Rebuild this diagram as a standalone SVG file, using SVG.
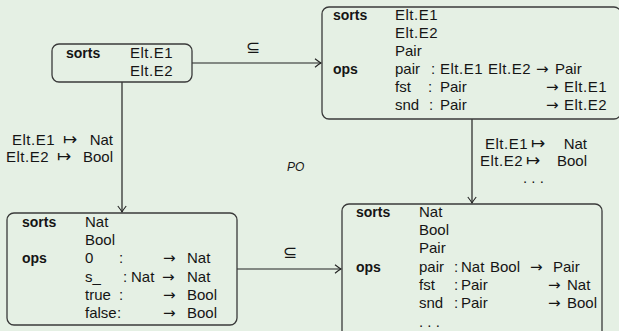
<svg xmlns="http://www.w3.org/2000/svg" width="619" height="331" viewBox="0 0 619 331">
  <style>
    .bg { fill: #e5f0e4; }
    .box { fill: none; stroke: #3a3a3a; stroke-width: 1.3; }
    .edge { fill: none; stroke: #222; stroke-width: 1.2; }
    text { font-family: "Liberation Sans", Arial, sans-serif; font-size: 15px; fill: #151515; }
    .b { font-weight: bold; font-size: 14px; }
    .e { letter-spacing: 0.5px; }
    .ar { font-family: "DejaVu Sans", sans-serif; font-size: 15px; }
    .mt { font-family: "DejaVu Sans", sans-serif; font-size: 17px; }
    .sym { font-family: "DejaVu Sans", sans-serif; font-size: 17px; }
    .po { font-style: italic; font-size: 12px; }
  </style>
  <defs>
    <marker id="to" viewBox="-8 -5 10 10" refX="0" refY="0" markerWidth="10" markerHeight="10" markerUnits="userSpaceOnUse" orient="auto">
      <path d="M-6,-4.2 Q-2,-1 0,0 Q-2,1 -6,4.2" fill="none" stroke="#222" stroke-width="1.1"/>
    </marker>
  </defs>

  <rect class="bg" x="0" y="0" width="619" height="331"/>

  <!-- connectors -->
  <g id="edges">
    <line class="edge" x1="192" y1="63" x2="321" y2="63" marker-end="url(#to)"/>
    <text class="sym" x="253" y="53" text-anchor="middle">⊆</text>
    <line class="edge" x1="122" y1="82" x2="122" y2="212" marker-end="url(#to)"/>
    <text y="145"><tspan class="e" x="12">Elt.E1</tspan><tspan class="mt" x="63">↦</tspan><tspan x="113" text-anchor="end">Nat</tspan></text>
    <text y="162"><tspan class="e" x="6">Elt.E2</tspan><tspan class="mt" x="57">↦</tspan><tspan x="113" text-anchor="end">Bool</tspan></text>
    <line class="edge" x1="472" y1="119" x2="472" y2="203" marker-end="url(#to)"/>
    <text y="149"><tspan class="e" x="485">Elt.E1</tspan><tspan class="mt" x="531">↦</tspan><tspan x="587" text-anchor="end">Nat</tspan></text>
    <text y="166"><tspan class="e" x="480">Elt.E2</tspan><tspan class="mt" x="526">↦</tspan><tspan x="587" text-anchor="end">Bool</tspan></text>
    <text x="523" y="183">. . .</text>
    <line class="edge" x1="237" y1="269" x2="341" y2="269" marker-end="url(#to)"/>
    <text class="sym" x="290" y="258" text-anchor="middle">⊆</text>
    <text class="po" x="287" y="171">PO</text>
  </g>

  <!-- Elt signature -->
  <g id="elt">
    <rect class="box" x="52" y="44" width="140" height="38" rx="7"/>
    <text class="b" x="66" y="58">sorts</text>
    <text class="e" x="130" y="58">Elt.E1</text>
    <text class="e" x="130" y="76">Elt.E2</text>
  </g>

  <!-- Pair signature over Elt -->
  <g id="pair">
    <rect class="box" x="322" y="7" width="299" height="112" rx="7"/>
    <text class="b" x="333" y="20">sorts</text>
    <text class="e" x="395" y="20">Elt.E1</text>
    <text class="e" x="395" y="38">Elt.E2</text>
    <text x="395" y="56">Pair</text>
    <text class="b" x="333" y="74">ops</text>
    <text x="395" y="74">pair</text>
    <text x="431" y="74">:</text>
    <text class="e" x="440" y="74">Elt.E1</text>
    <text class="e" x="488" y="74">Elt.E2</text>
    <text class="ar" x="536" y="74">→</text>
    <text x="555" y="74">Pair</text>
    <text x="395" y="92">fst</text>
    <text x="428" y="92">:</text>
    <text x="440" y="92">Pair</text>
    <text class="ar" x="546" y="92">→</text>
    <text class="e" x="564" y="92">Elt.E1</text>
    <text x="395" y="110">snd</text>
    <text x="429" y="110">:</text>
    <text x="440" y="110">Pair</text>
    <text class="ar" x="546" y="110">→</text>
    <text class="e" x="564" y="110">Elt.E2</text>
  </g>

  <!-- Nat/Bool signature -->
  <g id="natbool">
    <rect class="box" x="7" y="213" width="230" height="112" rx="7"/>
    <text class="b" x="22" y="227">sorts</text>
    <text x="85" y="227">Nat</text>
    <text x="85" y="245">Bool</text>
    <text class="b" x="22" y="263">ops</text>
    <text x="85" y="263">0</text>
    <text x="119" y="263">:</text>
    <text class="ar" x="163" y="263">→</text>
    <text x="187" y="263">Nat</text>
    <text x="85" y="282">s_</text>
    <text x="123" y="282">:</text>
    <text x="131" y="282">Nat</text>
    <text class="ar" x="162" y="282">→</text>
    <text x="187" y="282">Nat</text>
    <text x="85" y="300">true</text>
    <text x="119" y="300">:</text>
    <text class="ar" x="163" y="300">→</text>
    <text x="187" y="300">Bool</text>
    <text x="85" y="318">false</text>
    <text x="117" y="318">:</text>
    <text class="ar" x="163" y="318">→</text>
    <text x="187" y="318">Bool</text>
  </g>

  <!-- pushout signature -->
  <g id="pushout">
    <rect class="box" x="342" y="204" width="260" height="140" rx="7"/>
    <text class="b" x="356" y="217">sorts</text>
    <text x="419" y="217">Nat</text>
    <text x="419" y="235">Bool</text>
    <text x="419" y="253">Pair</text>
    <text class="b" x="356" y="272">ops</text>
    <text x="419" y="272">pair</text>
    <text x="454" y="272">:</text>
    <text x="461" y="272">Nat</text>
    <text x="490" y="272">Bool</text>
    <text class="ar" x="530" y="272">→</text>
    <text x="553" y="272">Pair</text>
    <text x="419" y="290">fst</text>
    <text x="454" y="290">:</text>
    <text x="461" y="290">Pair</text>
    <text class="ar" x="548" y="290">→</text>
    <text x="567" y="290">Nat</text>
    <text x="419" y="308">snd</text>
    <text x="454" y="308">:</text>
    <text x="461" y="308">Pair</text>
    <text class="ar" x="548" y="308">→</text>
    <text x="567" y="308">Bool</text>
    <text x="419" y="327">. . .</text>
  </g>
</svg>
